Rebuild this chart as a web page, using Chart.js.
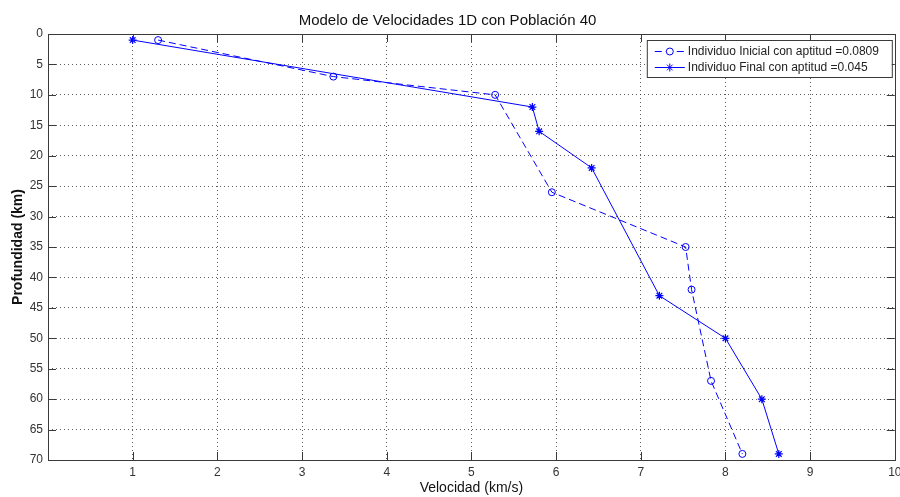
<!DOCTYPE html>
<html>
<head>
<meta charset="utf-8">
<title>Modelo de Velocidades 1D</title>
<script src="https://cdn.jsdelivr.net/npm/chart.js@4.4.0/dist/chart.umd.min.js"></script>
<style>
  html, body { margin: 0; padding: 0; background: #fff; }
  #wrap { width: 900px; height: 497px; position: relative; }
</style>
</head>
<body>
<div id="wrap"><canvas id="perfil"></canvas></div>
<script>
// perfiles de velocidad (km/s) contra profundidad (km)
const velInicial  = [1.3, 3.37, 5.28, 5.95, 7.53, 7.6, 7.83, 8.2];
const profInicial = [1, 7, 10, 26, 35, 42, 57, 69];
const velFinal    = [1, 5.72, 5.8, 6.42, 7.22, 8.0, 8.43, 8.63];
const profFinal   = [1, 12, 16, 22, 43, 50, 60, 69];

const etiquetas = ["Individuo Inicial con aptitud =0.0809", "Individuo Final con aptitud =0.045"];
const ticksX = [1, 2, 3, 4, 5, 6, 7, 8, 9, 10];
const ticksY = [0, 5, 10, 15, 20, 25, 30, 35, 40, 45, 50, 55, 60, 65, 70];

const FUENTE = "'Liberation Sans', Arial, Helvetica, sans-serif";
const AZUL = "#0000ff";

function puntos(xs, ys) {
  return xs.map((v, i) => ({ x: v, y: ys[i] }));
}

const gridColor = (lim) => (ctx) =>
  (ctx.tick && lim.includes(ctx.tick.value)) ? "rgba(0,0,0,0)" : "rgba(40,40,40,0.75)";

// caja tipo matlab con marcas hacia adentro en los cuatro lados
const cajaEjes = {
  id: "cajaEjes",
  afterDatasetsDraw(chart) {
    const { ctx, chartArea: a, scales } = chart;
    ctx.save();
    ctx.strokeStyle = "#3a3a3a";
    ctx.lineWidth = 1;
    ctx.setLineDash([]);
    ctx.beginPath();
    ticksX.forEach((v) => {
      const px = Math.round(scales.x.getPixelForValue(v)) + 0.5;
      ctx.moveTo(px, a.bottom); ctx.lineTo(px, a.bottom - 8);
      ctx.moveTo(px, a.top); ctx.lineTo(px, a.top + 8);
    });
    ticksY.forEach((v) => {
      const py = Math.round(scales.y.getPixelForValue(v)) + 0.5;
      ctx.moveTo(a.left, py); ctx.lineTo(a.left + 8, py);
      ctx.moveTo(a.right, py); ctx.lineTo(a.right - 8, py);
    });
    ctx.stroke();
    ctx.strokeRect(Math.round(a.left) + 0.5, Math.round(a.top) + 0.5,
                   Math.round(a.right - a.left), Math.round(a.bottom - a.top));
    ctx.restore();
  }
};

// leyenda dentro del area, esquina superior derecha
const leyenda = {
  id: "leyendaInterna",
  afterDraw(chart) {
    const { ctx, chartArea: a } = chart;
    const w = 245, h = 37;
    const x0 = a.right - w - 3, y0 = a.top + 6;
    ctx.save();
    ctx.fillStyle = "#fff";
    ctx.fillRect(x0, y0, w, h);
    ctx.strokeStyle = "#3a3a3a";
    ctx.lineWidth = 1;
    ctx.strokeRect(x0 + 0.5, y0 + 0.5, w, h);
    ctx.font = "12px " + FUENTE;
    ctx.textBaseline = "middle";
    chart.data.datasets.forEach((ds, i) => {
      const yy = y0 + 11 + i * 16;
      ctx.strokeStyle = ds.borderColor;
      ctx.lineWidth = 1;
      ctx.setLineDash(ds.borderDash || []);
      ctx.beginPath();
      ctx.moveTo(x0 + 8, yy + 0.5);
      ctx.lineTo(x0 + 38, yy + 0.5);
      ctx.stroke();
      ctx.setLineDash([]);
      Chart.helpers.drawPoint(ctx, {
        pointStyle: ds.pointStyle, radius: ds.pointRadius, borderWidth: 1, rotation: 0
      }, x0 + 23, yy + 0.5);
      ctx.fillStyle = "#222";
      ctx.fillText(ds.label, x0 + 41, yy + 1);
    });
    ctx.restore();
  }
};

new Chart(document.getElementById("perfil"), {
  type: "scatter",
  data: {
    datasets: [
      {
        label: etiquetas[0],
        data: puntos(velInicial, profInicial),
        showLine: true,
        borderColor: AZUL,
        backgroundColor: "rgba(0,0,0,0)",
        borderWidth: 1,
        borderDash: [7, 4],
        pointStyle: "circle",
        pointRadius: 3.5,
        pointBorderColor: AZUL,
        pointBackgroundColor: "rgba(0,0,0,0)",
        pointBorderWidth: 1
      },
      {
        label: etiquetas[1],
        data: puntos(velFinal, profFinal),
        showLine: true,
        borderColor: AZUL,
        backgroundColor: "rgba(0,0,0,0)",
        borderWidth: 1,
        pointStyle: "star",
        pointRadius: 4,
        pointBorderColor: AZUL,
        pointBackgroundColor: AZUL,
        pointBorderWidth: 1.2
      }
    ]
  },
  options: {
    responsive: true,
    maintainAspectRatio: false,
    animation: false,
    layout: { padding: { left: 0, right: 5, top: 0, bottom: 0 } },
    plugins: {
      legend: { display: false },
      tooltip: { enabled: false },
      title: {
        display: true,
        text: "Modelo de Velocidades 1D con Población 40",
        color: "#111",
        font: { family: FUENTE, size: 15, weight: "normal" },
        padding: { top: 12, bottom: 4 }
      }
    },
    scales: {
      x: {
        type: "linear",
        min: 0,
        max: 10,
        afterBuildTicks(scale) { scale.ticks = [0].concat(ticksX).map((v) => ({ value: v })); },
        afterFit(scale) { scale.height = 37; scale.paddingLeft = 0; scale.paddingRight = 0; },
        grid: { color: gridColor([0, 10]), drawTicks: false, lineWidth: 1 },
        border: { display: false, dash: [1, 3] },
        ticks: {
          padding: 5,
          color: "#333",
          font: { family: FUENTE, size: 12 },
          maxRotation: 0,
          callback: (v) => (v === 0 ? "" : String(v))
        },
        title: {
          display: true,
          text: "Velocidad (km/s)",
          color: "#111",
          font: { family: FUENTE, size: 14, weight: "normal" },
          padding: { top: 0, bottom: 0 }
        }
      },
      y: {
        type: "linear",
        reverse: true,
        min: 0,
        max: 70,
        afterBuildTicks(scale) { scale.ticks = ticksY.map((v) => ({ value: v })); },
        afterFit(scale) { scale.width = 48; scale.paddingTop = 0; scale.paddingBottom = 0; },
        grid: { color: gridColor([0, 70]), drawTicks: false, lineWidth: 1 },
        border: { display: false, dash: [1, 3] },
        ticks: {
          padding: 5,
          color: "#333",
          font: { family: FUENTE, size: 12 }
        },
        title: {
          display: true,
          text: "Profundidad (km)",
          color: "#111",
          font: { family: FUENTE, size: 14, weight: "bold" },
          padding: { top: 10, bottom: 0 }
        }
      }
    }
  },
  plugins: [cajaEjes, leyenda]
});
</script>
</body>
</html>
